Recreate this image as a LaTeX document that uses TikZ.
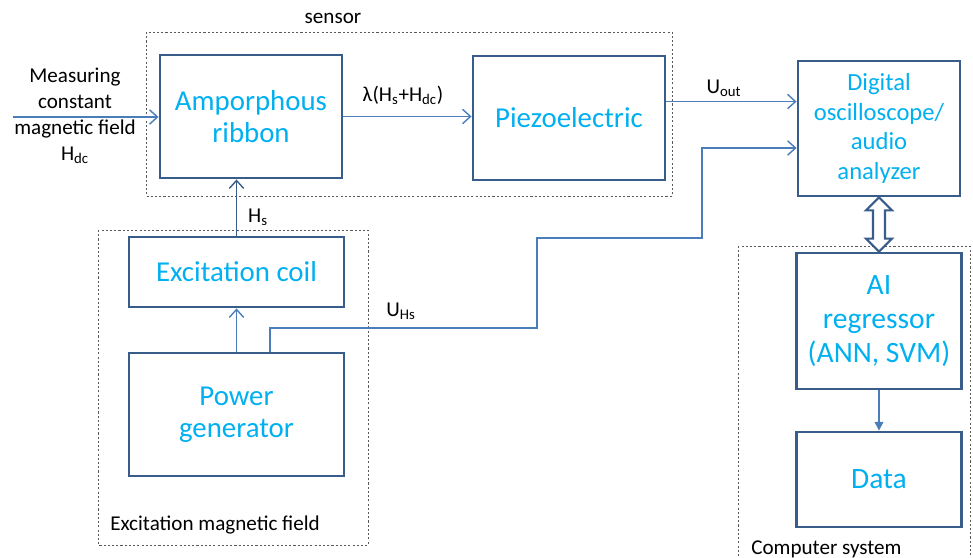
\documentclass[tikz,border=0pt]{standalone}
\usepackage{fontspec}
\setmainfont{Carlito}
\usetikzlibrary{positioning, arrows.meta, calc}
\definecolor{boxblue}{HTML}{385D8A}
\definecolor{lineblue}{HTML}{4A7EBB}
\definecolor{labcyan}{HTML}{00B0F0}

\begin{document}
\begin{tikzpicture}[x=0.025cm, y=-0.025cm, font=\fontsize{15}{18.5}\selectfont,
  blk/.style={draw=boxblue, line width=2pt, fill=white, text=labcyan, align=center,
    inner sep=0pt, font=\fontsize{20.5}{23}\selectfont},
  grp/.style={draw=black!65, line width=0.6pt, dash pattern=on 1.5pt off 1.5pt},
  conn/.style={draw=lineblue, line width=1pt, -{Straight Barb[length=2mm,width=3.6mm]}},
  lbl/.style={inner sep=0pt, align=center}]
\clip (0,0) rectangle (973,558);
% dashed groups (pixel coords, y downwards)
\draw[grp] (146,32) rectangle (672,196);
\draw[grp] (98,230) rectangle (368,545);
\draw[grp] (738,246) rectangle (970,580);
\node[lbl] (sensorlbl) at (333,18) {sensor};
\node[lbl, anchor=west] (exclbl) at (110,525) {Excitation magnetic field};
\node[lbl, anchor=west] (complbl) at (751,549) {Computer system};
% blocks
\node[blk, minimum width=4.55cm, minimum height=3.075cm] (ribbon) at (251,116.5) {Amporphous\\ribbon};
\node[blk, minimum width=4.8cm, minimum height=3.1cm] (piezo) at (569,118) {Piezoelectric};
\node[blk, minimum width=4.05cm, minimum height=3.375cm, font=\fontsize{17.5}{21}\selectfont] (osc) at (879,128.5) {Digital\\oscilloscope/\\audio\\analyzer};
\node[blk, minimum width=4.125cm, minimum height=3.4cm, font=\fontsize{21}{24}\selectfont] (ai) at (879,321) {AI\\regressor\\(ANN, SVM)};
\node[blk, minimum width=4.125cm, minimum height=2.375cm, font=\fontsize{21}{24}\selectfont] (data) at (879,479.5) {Data};
\node[blk, minimum width=5.375cm, minimum height=1.75cm] (coil) at (236.5,272) {Excitation coil};
\node[blk, minimum width=5.375cm, minimum height=3.075cm] (power) at (236.5,414.5) {Power\\generator};
% input field H_dc
\node[lbl] (hdclbl) at (75,116) {Measuring\\constant\\magnetic field\\H\textsubscript{dc}};
\coordinate (hdc) at (13,117);
\draw[conn] (hdc) -- (hdc -| ribbon.west);
% ribbon -> piezo
\draw[conn] (ribbon.east) -- (ribbon.east -| piezo.west);
\node[lbl] (lamlbl) at (403,95) {λ(H\textsubscript{s}+H\textsubscript{dc})};
% piezo -> oscilloscope
\coordinate (pzout) at ($(piezo.north east)!0.37!(piezo.south east)$);
\draw[conn] (pzout) -- (pzout -| osc.west);
\node[lbl] (uoutlbl) at (724,88) {U\textsubscript{out}};
% coil -> ribbon
\draw[conn, draw=boxblue] (coil.north) -- (coil.north |- ribbon.south);
\node[lbl] (hslbl) at (258,217) {H\textsubscript{s}};
% generator -> coil
\draw[conn] (power.north) -- (coil.south);
% generator voltage -> oscilloscope
\coordinate (uhs) at ($(power.north)+(33.5,0)$);
\coordinate (ujoin) at (702,148);
\draw[conn] (uhs) |- (537,328) |- (702,238) -- (ujoin) -- (ujoin -| osc.west);
\node[lbl] (uhslbl) at (401,311) {U\textsubscript{Hs}};
% oscilloscope <-> AI (hollow double arrow)
\draw[boxblue, line width=1.5pt, fill=white, line join=miter]
  (osc.south) -- ($(osc.south)+(13,13)$) -- ($(osc.south)+(6,13)$)
  -- ($(ai.north)+(6,-13)$) -- ($(ai.north)+(13,-13)$) -- (ai.north)
  -- ($(ai.north)+(-13,-13)$) -- ($(ai.north)+(-6,-13)$)
  -- ($(osc.south)+(-6,13)$) -- ($(osc.south)+(-13,13)$) -- cycle;
% AI -> data
\draw[draw=lineblue, line width=1pt, -{Triangle[length=2.2mm,width=2.2mm]}] (ai.south) -- (data.north);
\end{tikzpicture}
\end{document}
